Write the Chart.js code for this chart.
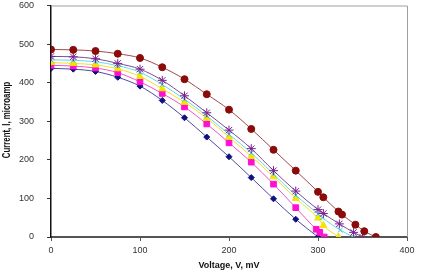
<!DOCTYPE html>
<html>
<head>
<meta charset="utf-8">
<script src="https://cdn.jsdelivr.net/npm/chart.js@4.4.1/dist/chart.umd.min.js"></script>
<style>
  html, body { margin: 0; padding: 0; background: #fff; }
  #wrap { width: 424px; height: 276px; position: relative; }
</style>
</head>
<body>
<div id="wrap"><canvas id="ivChart"></canvas></div>
<script>
// ====== DATA ======
const xTicks = [0, 100, 200, 300, 400];
const yTicks = [0, 100, 200, 300, 400, 500, 600];
const xTitle = 'Voltage, V, mV';
const yTitle = 'Current, I, microamp';

const voltRed = [0, 25, 50, 75, 100, 125, 150, 175, 200, 225, 250, 275, 300, 306, 323, 327, 342, 352, 365];
const currRed = [486, 485, 482, 475, 464, 440, 409, 370, 330, 280, 226, 172, 117, 103, 66, 58, 32, 15, 0];

const voltPurple = [0, 25, 50, 75, 100, 125, 150, 175, 200, 225, 250, 275, 300, 306, 324, 340, 350];
const currPurple = [468, 467, 462, 450, 435, 406, 366, 322, 277, 229, 172, 119, 71, 61, 34, 12, 0];

const voltCyan = [0, 25, 50, 75, 100, 125, 150, 175, 200, 225, 250, 275, 300, 305, 325, 340];
const currCyan = [459, 458, 454, 444, 427, 395, 357, 314, 266, 218, 163, 108, 60, 50, 18, 0];

const voltYellow = [0, 25, 50, 75, 100, 125, 150, 175, 200, 225, 250, 275, 300, 306, 323];
const currYellow = [452, 450, 446, 436, 416, 384, 349, 308, 259, 209, 156, 100, 49, 30, 0];

const voltMagenta = [0, 25, 50, 75, 100, 125, 150, 175, 200, 225, 250, 275, 298, 302, 307];
const currMagenta = [445, 443, 438, 426, 402, 372, 337, 293, 244, 194, 137, 76, 20, 12, 0];

const voltNavy = [0, 25, 50, 75, 100, 125, 150, 175, 200, 225, 250, 275, 300];
const currNavy = [437, 435, 429, 414, 391, 354, 309, 259, 208, 154, 99, 46, 0];

function pts(xs, ys) {
    return xs.map((v, i) => ({ x: v, y: ys[i] }));
}

function series(xs, ys, lineColor, markColor, style, radius) {
    return {
        data: pts(xs, ys),
        showLine: true,
        borderColor: lineColor,
        borderWidth: 1,
        backgroundColor: markColor,
        pointBorderColor: markColor,
        pointBackgroundColor: markColor,
        pointStyle: style,
        pointRadius: radius,
        pointBorderWidth: 1,
        tension: 0.3,
        cubicInterpolationMode: 'monotone'
    };
}

// gray frame on top / right of the plot + narrow rotated y title
const frame = {
    id: 'frame',
    afterDraw(chart) {
        const a = chart.chartArea, c = chart.ctx;
        c.save();
        c.strokeStyle = '#a0a0a0';
        c.lineWidth = 1;
        c.beginPath();
        c.moveTo(a.left, a.top + 0.5);
        c.lineTo(a.right + 0.5, a.top + 0.5);
        c.lineTo(a.right + 0.5, a.bottom);
        c.stroke();
        c.restore();

        // condensed bold title like the original narrow face
        c.save();
        c.translate(7, 120);
        c.rotate(-Math.PI / 2);
        c.scale(0.78, 1);
        c.font = 'bold 10px "Liberation Sans", Arial, sans-serif';
        c.fillStyle = '#111';
        c.textAlign = 'center';
        c.textBaseline = 'middle';
        c.fillText(yTitle, 0, 0);
        c.restore();
    }
};

const tickFont = { family: 'Liberation Sans, Arial, sans-serif', size: 9 };

new Chart(document.getElementById('ivChart'), {
    type: 'scatter',
    data: {
        datasets: [
            series(voltRed, currRed, '#a04848', '#8b0a0a', 'circle', 3.5),
            series(voltPurple, currPurple, '#7a4a9a', '#7a1f8f', 'star', 4.5),
            series(voltCyan, currCyan, '#66d8e8', '#33cce0', 'crossRot', 3.5),
            series(voltYellow, currYellow, '#f0e020', '#f5e400', 'triangle', 4),
            series(voltMagenta, currMagenta, '#f050d0', '#ff10d0', 'rect', 4),
            series(voltNavy, currNavy, '#4a4aa0', '#101080', 'rectRot', 3)
        ]
    },
    options: {
        responsive: true,
        maintainAspectRatio: false,
        animation: false,
        layout: { padding: { top: 1, right: 17, left: 0, bottom: 5 } },
        plugins: {
            legend: { display: false },
            tooltip: { enabled: false }
        },
        scales: {
            x: {
                type: 'linear',
                min: 0,
                max: 400,
                afterBuildTicks: s => { s.ticks = xTicks.map(v => ({ value: v })); },
                afterFit: s => { s.height = 34; s.paddingLeft = 0; s.paddingRight = 0; },
                border: { color: '#555', width: 2 },
                grid: { drawOnChartArea: false, color: '#555', tickLength: 4 },
                ticks: { color: '#333', font: tickFont, padding: 4, maxRotation: 0 },
                title: {
                    display: true,
                    text: xTitle,
                    color: '#111',
                    font: { family: 'Liberation Sans, Arial, sans-serif', size: 9, weight: 'bold' },
                    padding: { top: 1, bottom: 0 }
                }
            },
            y: {
                type: 'linear',
                min: 0,
                max: 600,
                afterBuildTicks: s => { s.ticks = yTicks.map(v => ({ value: v })); },
                afterFit: s => { s.width = 51; s.paddingTop = 0; s.paddingBottom = 0; },
                border: { color: '#111', width: 1.5 },
                grid: { drawOnChartArea: false, color: '#333', tickLength: 4 },
                ticks: { color: '#333', font: tickFont, padding: 13 }
            }
        }
    },
    plugins: [frame]
});
</script>
</body>
</html>
